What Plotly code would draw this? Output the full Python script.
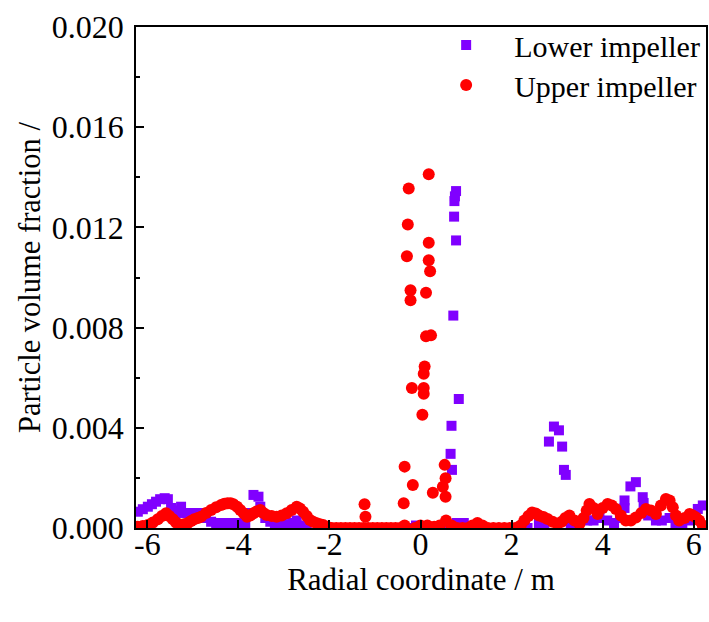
import plotly.graph_objects as go

# ---- Lower impeller (purple squares) ----
lower_x = [-6.21, -6.1, -5.99, -5.9, -5.81, -5.72, -5.62, -5.55, -5.48, -5.4, -5.33, -5.26, -5.2, -5.12,
           -5.04, -4.93, -4.82, -4.71, -4.6, -4.49, -4.38, -4.27, -4.16, -4.05, -3.95, -3.85, -3.75,
           -3.67, -3.56, -3.52, -3.41, -3.3, -3.2, -3.1, -3.0, -2.9, -2.8, -2.72, -2.62, -2.5,
           -2.25, -2.0, -1.75, -1.5, -1.25, -1.0, -0.75, -0.5, -0.25, -0.1, 0.1, 0.3, 0.5,
           0.66, 0.68, 0.69, 0.72, 0.737, 0.744, 0.755, 0.78, 0.78, 0.84, 0.8, 0.95, 1.1, 1.35,
           1.6, 1.85, 2.1, 2.35, 2.6, 2.72, 2.82, 2.93, 3.04, 3.11, 3.15, 3.19, 3.3, 3.45, 3.66,
           3.8, 3.93, 4.1, 4.25, 4.38, 4.48, 4.48, 4.61, 4.73, 4.88, 4.9, 5.0, 5.17, 5.3, 5.47,
           5.6, 5.75, 5.9, 6.0, 6.09, 6.2]
lower_y = [0.00065, 0.00075, 0.00085, 0.00095, 0.00105, 0.00115, 0.00119, 0.00115, 0.0008, 0.0006,
           0.0007, 0.00085, 0.0006, 0.0006, 0.0006, 0.0006, 0.0006, 0.0004, 0.00025, 0.0002, 0.0002,
           0.0002, 0.0002, 0.0002, 0.00015, 0.0002, 0.0006, 0.00132, 0.00125, 0.00085, 0.0004,
           0.00025, 0.0002, 0.0002, 0.00015, 0.00015, 0.0002, 0.0003, 0.0001, 0.0,
           0.0, 0.0, 0.0, 0.0, 0.0, 0.0, 0.0, 0.0, 0.0, 0.0001, 0.0, 0.0, 0.0,
           0.00296, 0.00408, 0.00232, 0.00848, 0.01243, 0.01305, 0.01324, 0.01345, 0.01148, 0.00515,
           0.0002, 0.0002, 0.0, 0.0, 0.0, 0.0, 0.0, 0.0, 0.0002, 0.0002, 0.00345, 0.00405, 0.0039,
           0.00325, 0.00232, 0.00212, 0.0001, 0.0001, 0.0003, 0.0003, 0.0004, 0.0003, 0.0002,
           0.0004, 0.0008, 0.0011, 0.00166, 0.00183, 0.00123, 0.001, 0.0005, 0.0003, 0.0003,
           0.0004, 0.0002, 0.0002, 0.0003, 0.0005, 0.00076, 0.0009]

# ---- Upper impeller (red circles) ----
upper_x = [-6.21, -6.1, -5.99, -5.88, -5.77, -5.68, -5.59, -5.52, -5.44, -5.37, -5.3, -5.2, -5.11,
           -5.04, -4.97, -4.89, -4.82, -4.71, -4.6, -4.49, -4.38, -4.31, -4.24, -4.17, -4.11, -4.03,
           -3.96, -3.88, -3.81, -3.74, -3.67, -3.6, -3.52, -3.45, -3.38, -3.27, -3.16, -3.05, -2.94,
           -2.83, -2.72, -2.65, -2.58, -2.5, -2.43, -2.36, -2.28, -2.21, -2.14, -2.05, -1.95, -1.85,
           -1.75, -1.65, -1.55, -1.45, -1.35, -1.23, -1.21, -1.25, -1.15, -1.05, -0.95, -0.85,
           -0.75, -0.65, -0.55, -0.45, -0.37, -0.35, -0.35, -0.3, -0.28, -0.26, -0.22, -0.22,
           -0.19, -0.17, -0.12, 0.0, 0.04, 0.07, 0.07, 0.07, 0.09, 0.12, 0.12, 0.15, 0.18, 0.18,
           0.18, 0.21, 0.23, 0.27, 0.3, 0.42, 0.49, 0.53, 0.55, 0.55, 0.56, 0.68, 0.8, 0.92, 1.04,
           1.14, 1.25, 1.36, 1.48, 1.6, 1.72, 1.84, 1.96, 2.08, 2.2, 2.28, 2.37, 2.45, 2.53, 2.6,
           2.7, 2.79, 2.9, 3.01, 3.1, 3.18, 3.27, 3.38, 3.49, 3.58, 3.65, 3.71, 3.8, 3.89, 4.0,
           4.11, 4.2, 4.29, 4.4, 4.51, 4.62, 4.73, 4.85, 4.95, 5.06, 5.17, 5.28, 5.39, 5.47, 5.54,
           5.61, 5.68, 5.8, 5.91, 5.98, 6.05, 6.12, 6.2]
upper_y = [0.00005, 0.00008, 0.00012, 0.00022, 0.00035, 0.00048, 0.00059, 0.00048, 0.00035, 0.00022,
           0.00012, 0.00015, 0.0002, 0.00028, 0.00035, 0.0004, 0.00045, 0.0006, 0.00072, 0.00083,
           0.00092, 0.00097, 0.00099, 0.00099, 0.00095, 0.00085, 0.00072, 0.00058, 0.00045, 0.0005,
           0.00059, 0.00066, 0.00072, 0.0006, 0.00052, 0.00048, 0.00045, 0.0005, 0.00059, 0.00072,
           0.00085, 0.00078, 0.00065, 0.00048, 0.00032, 0.00025, 0.00019, 0.00015, 0.00012, 0.00005,
           0.0, 0.0, 0.0, 0.0, 0.0, 0.0, 0.0, 0.00095, 0.00045, 0.0, 0.0, 0.0, 0.0, 0.0,
           0.0, 0.0, 0.0, 0.0, 0.00099, 0.00245, 0.0001, 0.01085, 0.01212, 0.01355, 0.00949, 0.00909,
           0.00559, 0.00172, 0.0, 0.0001, 0.00452, 0.00616, 0.00559, 0.00536, 0.00645, 0.00939,
           0.00765, 0.0001, 0.01412, 0.01139, 0.01069, 0.01025, 0.00769, 0.00141, 0.00005, 0.0001,
           0.00165, 0.00252, 0.00199, 0.00125, 0.0003, 0.0001, 0.0, 0.0, 0.0, 0.0001, 0.0002,
           0.0001, 0.0, 0.0, 0.0, 0.0, 0.0, 0.0, 0.0001, 0.0003, 0.00048, 0.00062, 0.00058, 0.0005,
           0.00044, 0.00036, 0.00025, 0.00016, 0.00025, 0.0004, 0.0005, 0.0003, 0.00016, 0.0004,
           0.0007, 0.00096, 0.0008, 0.00056, 0.0008, 0.00096, 0.0009, 0.00076, 0.0005, 0.0003,
           0.0003, 0.00042, 0.0006, 0.00076, 0.0007, 0.00056, 0.0009, 0.00116, 0.0011, 0.00083,
           0.0005, 0.0003, 0.0004, 0.00056, 0.0005, 0.00042, 0.0003, 0.0001]

x_tick_vals = [-6, -4, -2, 0, 2, 4, 6]
x_tick_text = ["-6", "-4", "-2", "0", "2", "4", "6"]
y_tick_vals = [0.000, 0.004, 0.008, 0.012, 0.016, 0.020]
y_tick_text = ["0.000", "0.004", "0.008", "0.012", "0.016", "0.020"]
y_minor_vals = [0.002, 0.006, 0.010, 0.014, 0.018]

FONT = "Liberation Serif, Times New Roman, serif"

fig = go.Figure()
fig.add_trace(go.Scatter(
    x=lower_x, y=lower_y, mode="markers", name="Lower impeller", legend="legend",
    marker=dict(symbol="square", size=10, color="#8000FF", line=dict(width=0)),
))
fig.add_trace(go.Scatter(
    x=upper_x, y=upper_y, mode="markers", name="Upper impeller", legend="legend2",
    marker=dict(symbol="circle", size=12, color="#FF0000", line=dict(width=0)),
))

axis_common = dict(
    showgrid=False, zeroline=False, showline=True, linecolor="black", linewidth=1.5,
    mirror=True, ticks="inside", tickcolor="black", tickwidth=1.5, ticklen=8,
    tickfont=dict(family=FONT, size=32, color="black"),
)

fig.update_xaxes(
    range=[-6.25, 6.27], tickvals=x_tick_vals, ticktext=x_tick_text,
    ticklabelstandoff=-13,
    title=dict(text="Radial coordinate / m", font=dict(family=FONT, size=31, color="black"), standoff=5),
    **axis_common,
)
fig.update_yaxes(
    range=[0, 0.020], tickvals=y_tick_vals, ticktext=y_tick_text,
    ticklabelstandoff=4,
    minor=dict(tickvals=y_minor_vals, ticks="inside", ticklen=4,
               tickcolor="black", tickwidth=1.5),
    title=dict(text="Particle volume fraction /", font=dict(family=FONT, size=30.5, color="black"), standoff=2),
    **axis_common,
)

legend_common = dict(
    xanchor="left", yanchor="top",
    bgcolor="rgba(0,0,0,0)", borderwidth=0,
    font=dict(family=FONT, size=30, color="black"),
    itemwidth=86,
)

fig.update_layout(
    width=709, height=622,
    margin=dict(l=136, r=1, t=27, b=94),
    plot_bgcolor="white", paper_bgcolor="white",
    font=dict(family=FONT, color="black"),
    showlegend=True,
    legend=dict(x=0.495, y=1.016, **legend_common),
    legend2=dict(x=0.495, y=0.936, **legend_common),
)

fig.write_html(
    "out.html",
    config={"displayModeBar": False},
    post_script="document.body.style.margin='0';document.body.style.overflow='hidden';",
)
